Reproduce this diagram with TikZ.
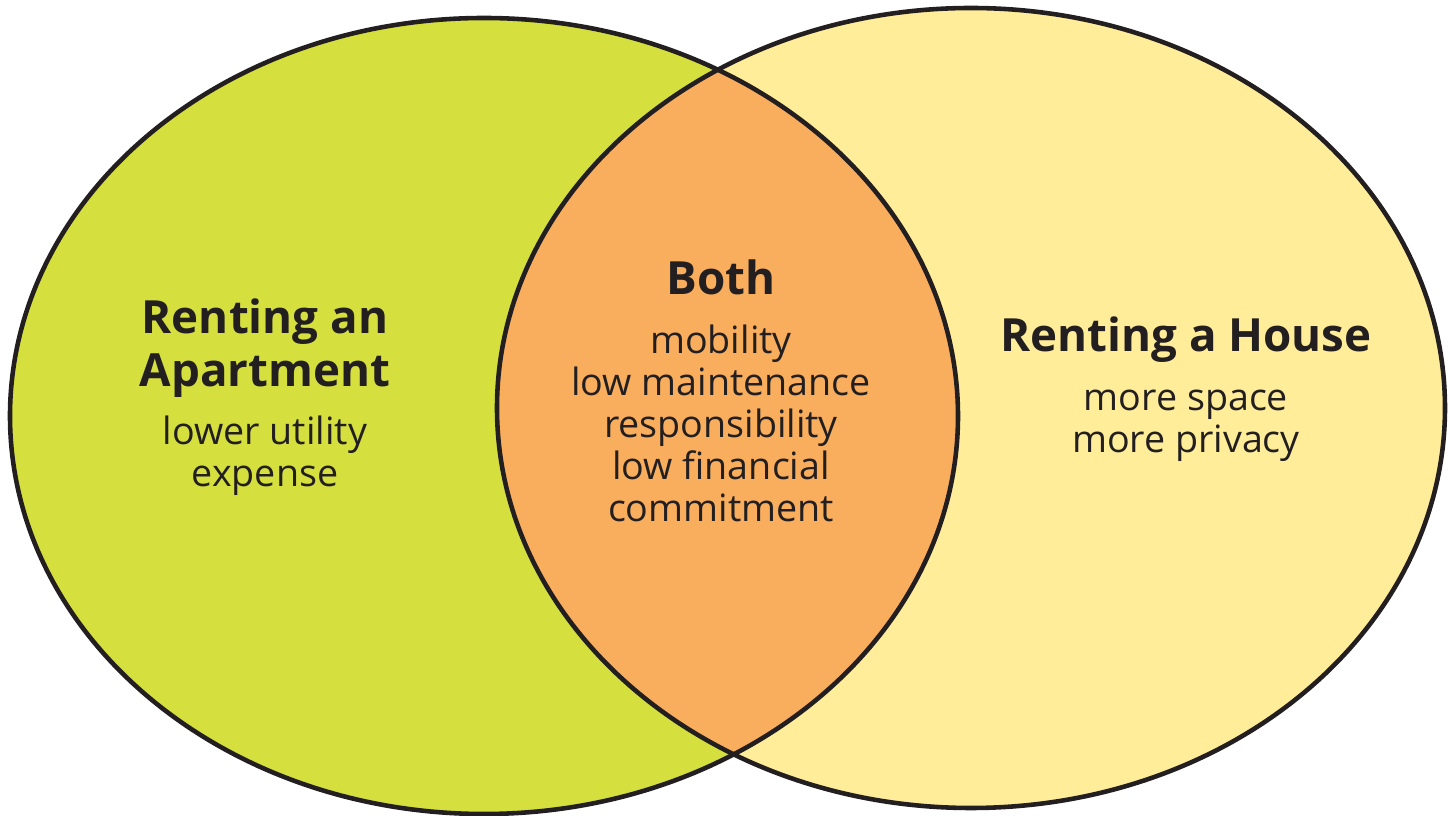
\documentclass[tikz,border=0pt]{standalone}
\usepackage{fontspec}
\setmainfont{Open Sans}
\usetikzlibrary{positioning}
\definecolor{aptgreen}{RGB}{213,223,62}
\definecolor{houseyellow}{RGB}{255,237,153}
\definecolor{bothorange}{RGB}{249,174,94}
\definecolor{inkblack}{RGB}{35,31,32}
\tikzset{
	x=0.01cm, y=-0.01cm, % one unit is one pixel of the figure
	setline/.style={draw=inkblack, line width=1.3pt}, % outline of each set
	heading/.style={font=\bfseries\fontsize{13}{15.2}\selectfont, text=inkblack, align=center, inner sep=0pt, anchor=base},
	item/.style={font=\fontsize{10.7}{12}\selectfont, text=inkblack, align=center, inner sep=0pt, anchor=base},
}
\begin{document}
\begin{tikzpicture}
	\useasboundingbox (0,0) rectangle (1450,816);
	% the two sets and their overlap
	\fill[aptgreen] (484,416) ellipse [x radius=474, y radius=398];
	\fill[houseyellow] (971,408) ellipse [x radius=474, y radius=400];
	\begin{scope}
		\clip (484,416) ellipse [x radius=474, y radius=398];
		\fill[bothorange] (971,408) ellipse [x radius=474, y radius=400];
	\end{scope}
	\draw[setline] (484,416) ellipse [x radius=474, y radius=398];
	\draw[setline] (971,408) ellipse [x radius=474, y radius=400];
	% labels (placed at the baseline of their last line)
	\node[heading] (apthead) at (265,387) {Renting an\\Apartment};
	\node[item] (aptlist) at (265,487) {lower utility\\expense};
	\node[heading] (bothhead) at (721,295) {Both};
	\node[item] (bothlist) at (721,522) {mobility\\low maintenance\\responsibility\\low financial\\commitment};
	\node[heading] (househead) at (1186,352) {Renting a House};
	\node[item] (houselist) at (1186,453) {more space\\more privacy};
\end{tikzpicture}
\end{document}
